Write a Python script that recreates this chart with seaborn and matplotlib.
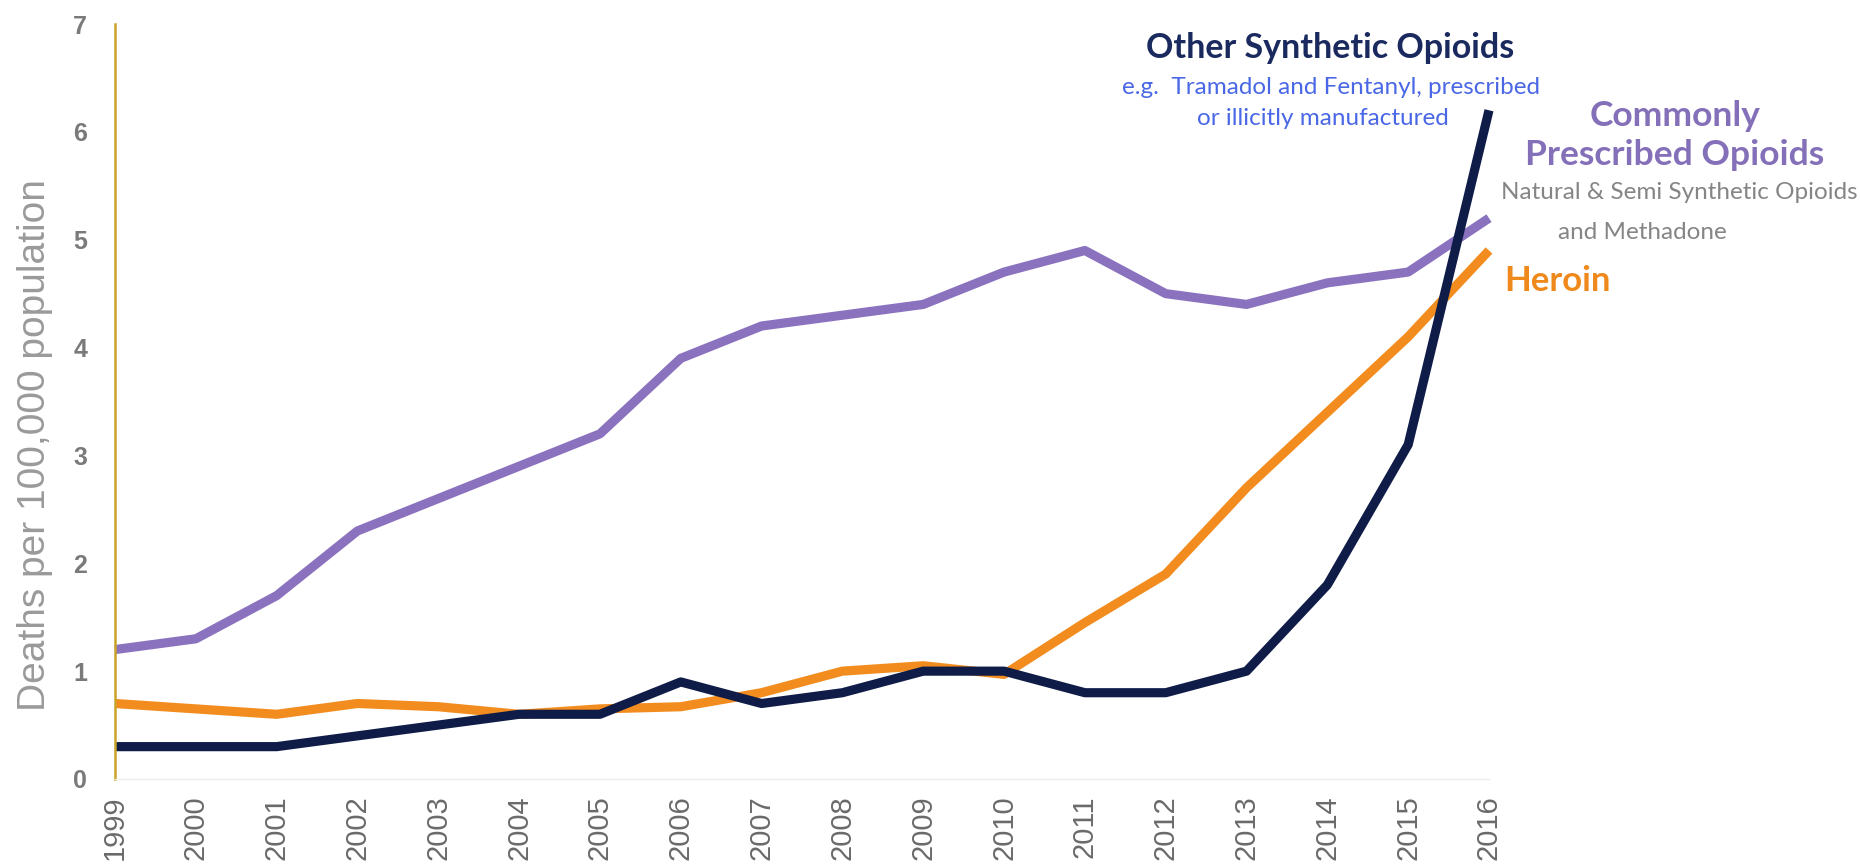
import matplotlib
matplotlib.use("Agg")
import matplotlib.pyplot as plt
import seaborn as sns
import pandas as pd

years = list(range(1999, 2017))
other_synthetic = [0.3, 0.3, 0.3, 0.4, 0.5, 0.6, 0.6, 0.9, 0.7, 0.8, 1.0, 1.0, 0.8, 0.8, 1.0, 1.8, 3.1, 6.2]
commonly_prescribed = [1.2, 1.3, 1.7, 2.3, 2.6, 2.9, 3.2, 3.9, 4.2, 4.3, 4.4, 4.7, 4.9, 4.5, 4.4, 4.6, 4.7, 5.2]
heroin = [0.7, 0.65, 0.6, 0.7, 0.67, 0.6, 0.65, 0.67, 0.8, 1.0, 1.05, 0.97, 1.45, 1.9, 2.7, 3.4, 4.1, 4.9]
series_names = ["Commonly Prescribed Opioids", "Heroin", "Other Synthetic Opioids"]
colors = ["#8A72BF", "#F28C1E", "#101C48"]
y_ticks = [0, 1, 2, 3, 4, 5, 6, 7]
y_label = "Deaths per 100,000 population"

df = pd.concat([
    pd.DataFrame({"year": years, "value": commonly_prescribed, "series": series_names[0]}),
    pd.DataFrame({"year": years, "value": heroin, "series": series_names[1]}),
    pd.DataFrame({"year": years, "value": other_synthetic, "series": series_names[2]}),
])

sns.set_theme(style="white")
plt.rcParams["font.family"] = ["Liberation Sans", "DejaVu Sans"]

fig = plt.figure(figsize=(18.6, 8.66), dpi=100)
ax = fig.add_axes([115 / 1860, 1 - 779 / 866, (1489 - 115) / 1860, (779 - 24) / 866])

sns.lineplot(data=df, x="year", y="value", hue="series", hue_order=series_names,
             palette=dict(zip(series_names, colors)), linewidth=6.6, ax=ax,
             legend=False, sort=False)
for ln in ax.get_lines():
    ln.set_clip_on(False)
    ln.set_solid_capstyle("butt")
    ln.set_solid_joinstyle("round")

ax.set_xlim(1999, 2016)
ax.set_ylim(0, 7)
ax.set_yticks(y_ticks)
ax.set_yticklabels([str(t) for t in y_ticks], fontsize=18, fontweight="bold", color="#7a7a7a")
ax.set_xticks(years)
ax.set_xticklabels([str(y) for y in years], rotation=90, fontsize=21, color="#6a6a6a")
ax.tick_params(axis="y", length=0, pad=20)
ax.tick_params(axis="x", length=0, pad=12)
ax.set_xlabel("")
ax.set_ylabel(y_label, fontsize=28, color="#9a9a9a")
ax.yaxis.set_label_coords(-0.045, 0.442)

for s in ["top", "right"]:
    ax.spines[s].set_visible(False)
ax.spines["left"].set_color("#C9A32A")
ax.spines["left"].set_linewidth(1.8)
ax.spines["bottom"].set_color("#ececec")
ax.spines["bottom"].set_linewidth(1.0)

lato = ["Lato", "DejaVu Sans"]
ax.text(2014.04, 6.78, "Other Synthetic Opioids", ha="center", va="center",
        fontsize=24.5, fontweight="bold", color="#1A2A5E", family=lato)
ax.text(2014.04, 6.41, "e.g.  Tramadol and Fentanyl, prescribed", ha="center", va="center",
        fontsize=17.5, color="#4A68E6", family=lato)
ax.text(2013.95, 6.12, "or illicitly manufactured", ha="center", va="center",
        fontsize=17.5, color="#4A68E6", family=lato)
ax.text(2018.3, 6.15, "Commonly", ha="center", va="center",
        fontsize=25.5, fontweight="bold", color="#8470B8", family=lato)
ax.text(2018.3, 5.79, "Prescribed Opioids", ha="center", va="center",
        fontsize=25.5, fontweight="bold", color="#8470B8", family=lato)
ax.text(2018.35, 5.44, "Natural & Semi Synthetic Opioids", ha="center", va="center",
        fontsize=17.5, color="#858585", family=lato)
ax.text(2017.9, 5.07, "and Methadone", ha="center", va="center",
        fontsize=17.5, color="#858585", family=lato)
ax.text(2016.19, 4.62, "Heroin", ha="left", va="center",
        fontsize=25, fontweight="bold", color="#F0891C", family=lato)

fig.savefig("out.png", dpi=100, facecolor="white")
